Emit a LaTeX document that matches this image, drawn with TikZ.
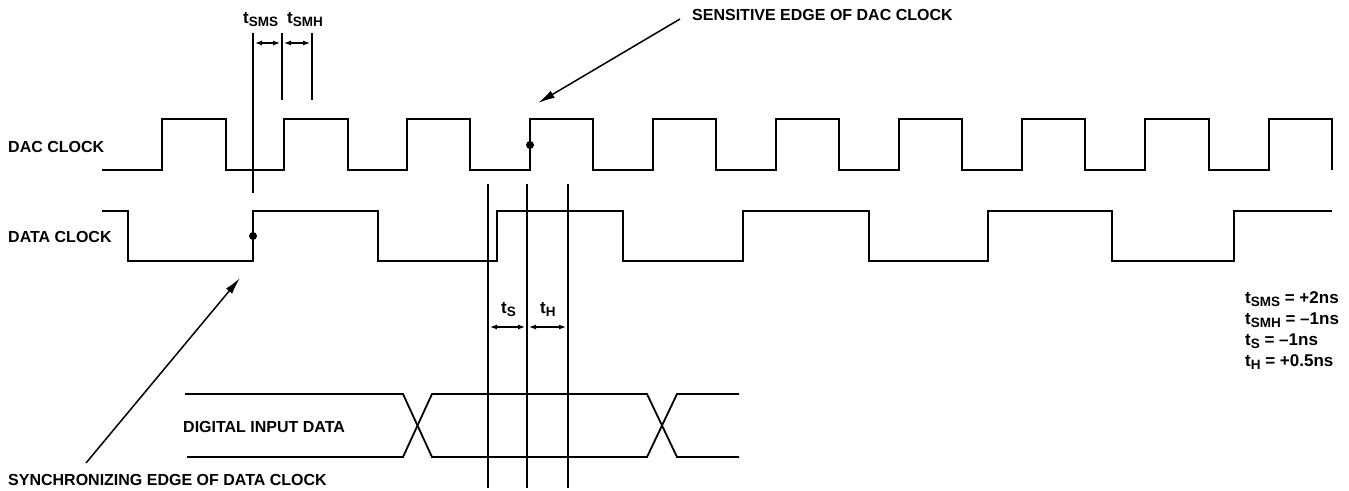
\documentclass[tikz,border=0pt]{standalone}
\usepackage{fontspec}
\setmainfont{Liberation Sans}
\usepackage{tikz}
\usetikzlibrary{arrows.meta}
\newcommand{\tsub}[1]{t\raisebox{-0.22em}{\fontsize{13.5}{14}\selectfont #1}}

\begin{document}
\begin{tikzpicture}[x=1pt, y=-1pt,
  wave/.style={line width=1.8pt, line join=miter},
  marker/.style={line width=1.6pt},
  lbl/.style={inner sep=0pt, anchor=base west, font=\bfseries\fontsize{16}{18}\selectfont},
  tlbl/.style={inner sep=0pt, anchor=base west, font=\bfseries\fontsize{17}{19}\selectfont},
  pointer/.style={line width=1.5pt, -{Latex[length=17pt, width=8pt]}},
  span/.style={line width=1.2pt, {Latex[length=7pt, width=5pt]}-{Latex[length=7pt, width=5pt]}}]
\useasboundingbox (0,0) rectangle (1349,490);
\node[lbl] (dacclk) at (8,152) {DAC CLOCK};
\node[lbl] (dataclk) at (8,242) {DATA CLOCK};
\node[lbl] (didata) at (183,432) {DIGITAL INPUT DATA};
\node[lbl] (sens) at (692,20) {SENSITIVE EDGE OF DAC CLOCK};
\node[lbl] (sync) at (8,485) {SYNCHRONIZING EDGE OF DATA CLOCK};
\node[tlbl] (tsms) at (243,23) {\tsub{SMS}};
\node[tlbl] (tsmh) at (287,23) {\tsub{SMH}};
\node[tlbl] (ts) at (501,313) {\tsub{S}};
\node[tlbl] (th) at (540,313) {\tsub{H}};
\node[tlbl] (lsms) at (1245,303) {\tsub{SMS} = +2ns};
\node[tlbl] (lsmh) at (1245,324) {\tsub{SMH} = --1ns};
\node[tlbl] (lts) at (1245,345) {\tsub{S} = --1ns};
\node[tlbl] (lth) at (1245,366) {\tsub{H} = +0.5ns};
\draw[wave] plot coordinates{(102,170)(162,170)(162,119)(226,119)(226,170)(284,170)(284,119)(348,119)(348,170)(407,170)(407,119)(470,119)(470,170)(530,170)(530,119)(593,119)(593,170)(653,170)(653,119)(716,119)(716,170)(776,170)(776,119)(839,119)(839,170)(899,170)(899,119)(962,119)(962,170)(1022,170)(1022,119)(1085,119)(1085,170)(1145,170)(1145,119)(1209,119)(1209,170)(1269,170)(1269,119)(1332,119)(1332,170)};
\draw[wave] plot coordinates{(102,211)(128,211)(128,261)(253,261)(253,211)(378,211)(378,261)(497,261)(497,211)(623,211)(623,261)(743,261)(743,211)(869,211)(869,261)(988,261)(988,211)(1112,211)(1112,261)(1234,261)(1234,211)(1332,211)};
\draw[wave] plot coordinates{(185,394)(403,394)(432,457)(647,457)(677,394)(739,394)};
\draw[wave] plot coordinates{(187,457)(403,457)(432,394)(647,394)(677,457)(739,457)};
\coordinate (sms) at (253,33);
\coordinate (smh1) at (282,33);
\coordinate (smh2) at (312,33);
\coordinate (setup) at (488,184);
\coordinate (edge) at (527,184);
\coordinate (hold) at (568,184);
\draw[marker] (sms) -- ++(0,160);
\draw[marker] (smh1) -- ++(0,67);
\draw[marker] (smh2) -- ++(0,67);
\draw[marker] (setup) -- ++(0,304);
\draw[marker] (edge) -- ++(0,304);
\draw[marker] (hold) -- ++(0,304);
\draw[span] ([xshift=2pt, yshift=-10pt]sms) -- ([xshift=-2pt, yshift=-10pt]smh1);
\draw[span] ([xshift=2pt, yshift=-10pt]smh1) -- ([xshift=-2pt, yshift=-10pt]smh2);
\draw[span] ([xshift=2pt, yshift=-143pt]setup) -- ([xshift=-2pt, yshift=-143pt]edge);
\draw[span] ([xshift=2pt, yshift=-143pt]edge) -- ([xshift=-2pt, yshift=-143pt]hold);
\fill (530,145) circle (4);
\fill (253,236) circle (4);
\coordinate (senstip) at (538,103);
\coordinate (synctip) at (240,278);
\draw[pointer] (sens.base west) ++(-12,-1) -- (senstip);
\draw[pointer] (sync.base west) ++(78,-22) -- (synctip);
\end{tikzpicture}
\end{document}
